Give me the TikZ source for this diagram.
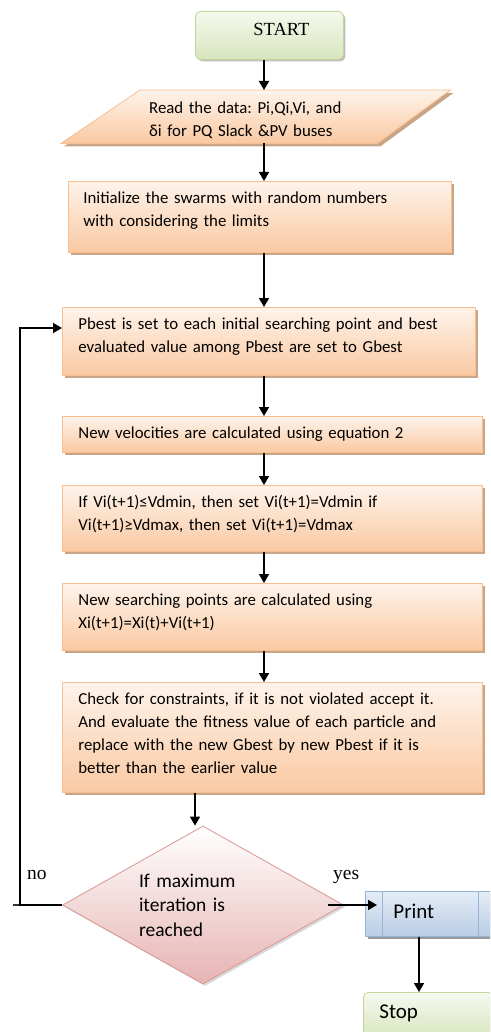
\documentclass[tikz,border=0pt]{standalone}
\usepackage{fontspec}
\setmainfont{Carlito}
\newfontfamily\romanface{Liberation Serif}
\usepackage{xcolor}
\usetikzlibrary{shapes.geometric, arrows.meta, shadows, calc, backgrounds}
\frenchspacing

\definecolor{peachtop}{HTML}{FEF3EA}
\definecolor{peachbot}{HTML}{FAC9A2}
\definecolor{peachline}{HTML}{F8BF93}
\definecolor{peachshade}{HTML}{C9A587}
\definecolor{greentop}{HTML}{F5F9EE}
\definecolor{greenbot}{HTML}{D8E5BE}
\definecolor{greenline}{HTML}{C3D69B}
\definecolor{pinkbot}{HTML}{E6B4B3}
\definecolor{pinkline}{HTML}{D99694}
\definecolor{bluetop}{HTML}{E4ECF6}
\definecolor{bluebot}{HTML}{B9CDE5}
\definecolor{blueline}{HTML}{95B3D7}

\tikzset{
    stepbox/.style={rectangle, draw=peachline, line width=0.8pt, top color=peachtop, bottom color=peachbot,
        drop shadow={shadow xshift=3pt, shadow yshift=-3pt, fill=peachshade, opacity=1},
        anchor=north west, align=left, inner xsep=16pt, inner ysep=11pt, text height=11pt,
        font=\fontsize{16.8}{23}\selectfont},
    terminal/.style={rectangle, rounded corners=5pt, draw=greenline, line width=0.8pt, top color=greentop, bottom color=greenbot,
        drop shadow={shadow xshift=2pt, shadow yshift=-2pt, fill=black!25, opacity=1}},
    process/.style={rectangle, draw=blueline, line width=0.8pt, top color=bluetop, bottom color=bluebot,
        drop shadow={shadow xshift=3pt, shadow yshift=-3pt, fill=black!40, opacity=1}},
    decision/.style={diamond, aspect=1.78, draw=pinkline, line width=0.8pt, top color=white, bottom color=pinkbot,
        drop shadow={shadow xshift=2pt, shadow yshift=-2pt, fill=black!15, opacity=1},
        inner sep=0pt, minimum width=281pt, minimum height=158pt, text width=128pt, align=left,
        font=\fontsize{19.5}{24.5}\selectfont},
    flow/.style={line width=1.6pt, -{Triangle[width=10pt,length=9pt]}},
    answer/.style={anchor=base west, inner sep=0pt, font=\romanface\fontsize{19.5}{22}\selectfont}
}

\begin{document}
\begin{tikzpicture}[x=1pt, y=-1pt]
        \useasboundingbox (0,0) rectangle (490,1032);
        \clip (0,0) rectangle (490,1032);

        % Guides
        \coordinate (spine) at (264,0);
        \coordinate (drop) at (195,0);
        \coordinate (exit) at (419,0);
        \coordinate (back) at (20,328);
        \coordinate (tail) at (13,0);

        % Nodes
        \node[terminal, anchor=north west, text width=80pt, align=right, inner xsep=34pt, inner ysep=12pt,
            text height=12pt, text depth=12pt, font=\romanface\fontsize{18.5}{20}\selectfont] (start) at (195,11) {START};
        \node[anchor=north west, align=left, text width=213pt, inner xsep=88pt, inner ysep=12pt,
            text height=11pt, text depth=18pt, font=\fontsize{16.8}{23}\selectfont] (read) at (61,90)
            {Read the data: Pi,Qi,Vi, and\\δi for PQ Slack \&PV buses};
        \node[stepbox, text width=353pt, inner xsep=15pt, text depth=38pt] (init) at (68,181)
            {Initialize the swarms with random numbers\\with considering the limits};
        \node[stepbox, text width=381pt, text depth=35pt] (pbest) at (62,307)
            {Pbest is set to each initial searching point and best\\evaluated value among Pbest are set to Gbest};
        \node[stepbox, text width=388pt, text depth=3pt] (velo) at (62,416)
            {New velocities are calculated using equation 2};
        \node[stepbox, text width=388pt, text depth=33pt] (limit) at (62,485)
            {If Vi(t+1)≤Vdmin, then set Vi(t+1)=Vdmin if\\Vi(t+1)≥Vdmax, then set Vi(t+1)=Vdmax};
        \node[stepbox, text width=388pt, text depth=34pt] (search) at (62,583)
            {New searching points are calculated using\\Xi(t+1)=Xi(t)+Vi(t+1)};
        \node[stepbox, text width=388pt, text depth=77pt] (check) at (62,682)
            {Check for constraints, if it is not violated accept it.\\And evaluate the fitness value of each particle and\\replace with the new Gbest by new Pbest if it is\\better than the earlier value};
        \node[decision] (decide) at (203,905) {If maximum\\iteration is\\reached};
        \node[process, anchor=north west, text width=74pt, align=left, inner xsep=28pt, minimum height=45pt,
            text depth=6pt, font=\fontsize{21}{25}\selectfont] (print) at (365,891) {Print};
        \node[terminal, anchor=north west, text width=98pt, align=left, inner xsep=16pt, minimum height=46pt,
            text depth=8pt, font=\fontsize{21}{25}\selectfont] (stop) at (363,992) {Stop};
        \coordinate (printin) at ($(print.west)+(12,0)$);

        % Input shape behind its text
        \begin{scope}[on background layer]
            \draw[draw=peachline, line width=0.8pt, top color=peachtop, bottom color=peachbot,
                drop shadow={shadow xshift=3pt, shadow yshift=-3pt, fill=peachshade, opacity=1}]
                ($(read.north west)+(79,0)$) -- (read.north east) -- ($(read.south east)+(-73,0)$) -- (read.south west) -- cycle;
        \end{scope}
        \draw[draw=blueline, line width=0.8pt] ($(print.north west)+(17,0)$) -- ($(print.south west)+(17,0)$);
        \draw[draw=blueline, line width=0.8pt] ($(print.north east)+(-17,0)$) -- ($(print.south east)+(-17,0)$);

        % Edges
        \draw[flow] (start.south -| spine) -- (read.north -| spine);
        \draw[flow] (read.south -| spine) -- (init.north -| spine);
        \draw[flow] (init.south -| spine) -- (pbest.north -| spine);
        \draw[flow] (pbest.south -| spine) -- (velo.north -| spine);
        \draw[flow] (velo.south -| spine) -- (limit.north -| spine);
        \draw[flow] (limit.south -| spine) -- (search.north -| spine);
        \draw[flow] (search.south -| spine) -- (check.north -| spine);
        \draw[flow] (check.south -| drop) -- (decide.north -| drop);
        \draw[line width=1.4pt, black!80] (decide.west) -- (decide.west -| tail);
        \draw[flow, line width=1.4pt] (decide.west) -| (back) -- (pbest.west |- back);
        \draw[flow, shorten <=-16pt] (decide.east) -- (decide.east -| printin);
        \draw[flow] (print.south -| exit) -- (stop.north -| exit);

        % Labels
        \node[answer] (nolabel) at (27,879) {no};
        \node[answer] (yeslabel) at (333,879) {yes};
\end{tikzpicture}
\end{document}
